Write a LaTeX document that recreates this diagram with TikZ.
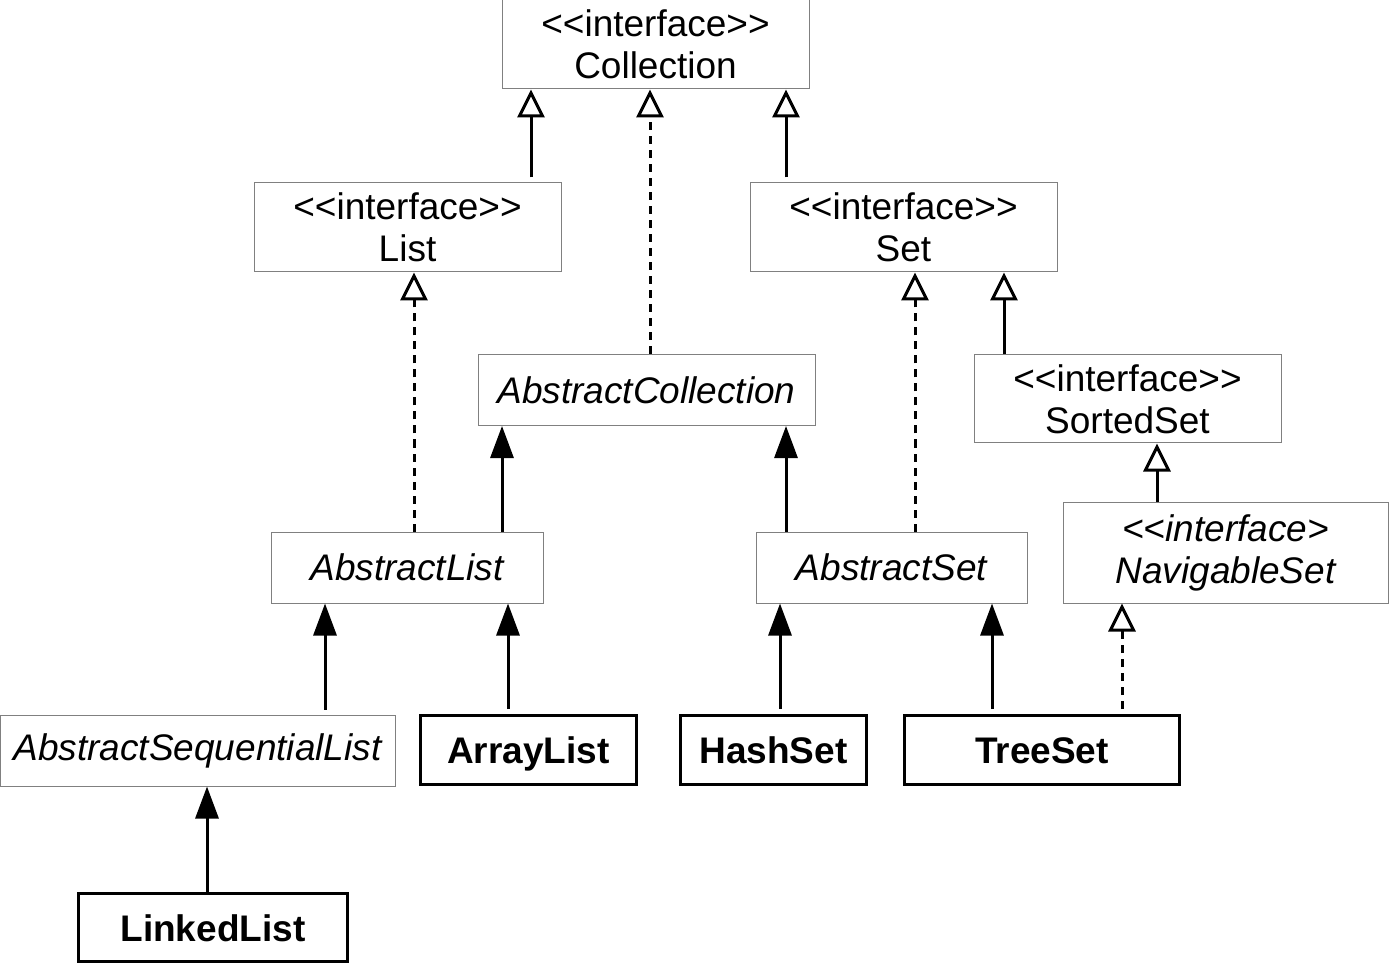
\documentclass[tikz,border=0pt]{standalone}
\usepackage{fontspec}
\setmainfont{Liberation Sans}[Ligatures=TeXOff]
\usetikzlibrary{arrows.meta}
\newcommand\umlfont{\fontsize{18.5}{21}\selectfont}
\tikzset{
  iface/.style={draw=gray, line width=.5pt, align=center, inner sep=0pt,
    font=\umlfont, minimum width=153.5pt, minimum height=44.5pt},
  abstr/.style={draw=gray, line width=.5pt, align=center, inner sep=0pt,
    font=\umlfont\itshape, minimum height=35.5pt},
  concrete/.style={draw, line width=1.5pt, inner sep=0pt, text height=15.5pt, text depth=2pt,
    font=\umlfont\bfseries, minimum height=34.5pt},
  extends/.style={line width=1.5pt, -{Triangle[length=16pt, width=11.5pt]}},
  generalizes/.style={line width=1.5pt, -{Triangle[open, length=14pt, width=13.5pt]}},
  implements/.style={generalizes, dash pattern=on 4pt off 3pt},
}
\begin{document}
\begin{tikzpicture}[x=.5pt, y=-.5pt]
  \useasboundingbox (0,0) rectangle (1390,967);
  \node[iface] (coll) at (655.5,44.5) {<<interface>>\\Collection};
  \node[iface] (list) at (407.5,227.5) {<<interface>>\\List};
  \node[iface] (set) at (903.5,227.5) {<<interface>>\\Set};
  \node[abstr, minimum width=168.5pt] (acoll) at (646.5,390) {AbstractCollection};
  \node[iface, minimum height=44pt] (sorted) at (1127.5,399) {<<interface>>\\SortedSet};
  \node[abstr, minimum width=136pt] (alist) at (407,567.5) {AbstractList};
  \node[abstr, minimum width=135.5pt] (aset) at (891.5,567.5) {AbstractSet};
  \node[abstr, minimum width=162.5pt, minimum height=50.5pt] (nav) at (1225.5,552.5) {<<interface>\\NavigableSet};
  \node[abstr, minimum width=197.5pt] (aseq) at (197.5,750.5) {AbstractSequentialList};
  \node[concrete, minimum width=108pt] (arr) at (528.5,750) {ArrayList};
  \node[concrete, minimum width=93pt] (hash) at (773.5,750) {HashSet};
  \node[concrete, minimum width=137.5pt] (tree) at (1042,750) {TreeSet};
  \node[concrete, minimum width=134.5pt, minimum height=34pt] (linked) at (213,927.5) {LinkedList};

  \draw[generalizes, shorten <=2.5pt] ([xshift=61.75pt]list.north) -- ([xshift=61.75pt]list.north |- coll.south);
  \draw[implements] ([xshift=1.75pt]acoll.north) -- ([xshift=1.75pt]acoll.north |- coll.south);
  \draw[generalizes, shorten <=2.5pt] ([xshift=-58.75pt]set.north) -- ([xshift=-58.75pt]set.north |- coll.south);
  \draw[implements] ([xshift=3.5pt]alist.north) -- ([xshift=3.5pt]alist.north |- list.south);
  \draw[extends] ([xshift=47.5pt]alist.north) -- ([xshift=47.5pt]alist.north |- acoll.south);
  \draw[extends] ([xshift=-52.75pt]aset.north) -- ([xshift=-52.75pt]aset.north |- acoll.south);
  \draw[implements] ([xshift=11.75pt]aset.north) -- ([xshift=11.75pt]aset.north |- set.south);
  \draw[generalizes] ([xshift=-61.75pt]sorted.north) -- ([xshift=-61.75pt]sorted.north |- set.south);
  \draw[generalizes] ([xshift=-34.25pt]nav.north) -- ([xshift=-34.25pt]nav.north |- sorted.south);
  \draw[extends, shorten <=2.5pt] ([xshift=63.75pt]aseq.north) -- ([xshift=63.75pt]aseq.north |- alist.south);
  \draw[extends, shorten <=2.5pt] ([xshift=-10.25pt]arr.north) -- ([xshift=-10.25pt]arr.north |- alist.south);
  \draw[extends, shorten <=2.5pt] ([xshift=3.25pt]hash.north) -- ([xshift=3.25pt]hash.north |- aset.south);
  \draw[extends, shorten <=2.5pt] ([xshift=-25pt]tree.north) -- ([xshift=-25pt]tree.north |- aset.south);
  \draw[implements, shorten <=2.5pt] ([xshift=40pt]tree.north) -- ([xshift=40pt]tree.north |- nav.south);
  \draw[extends] ([xshift=-3pt]linked.north) -- ([xshift=-3pt]linked.north |- aseq.south);
\end{tikzpicture}
\end{document}
